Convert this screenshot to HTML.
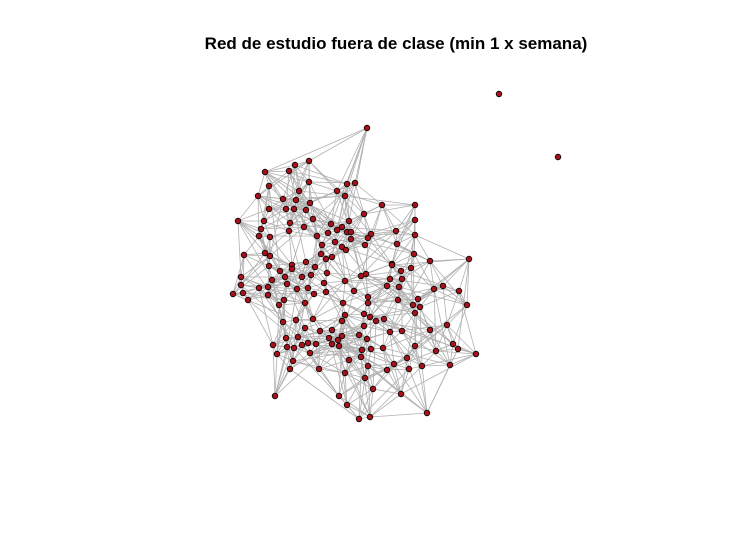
<!DOCTYPE html>
<html><head><meta charset="utf-8"><style>
html,body{margin:0;padding:0;background:#fff;}
svg{display:block;}
</style></head><body>
<svg id="chart" width="754" height="533" viewBox="0 0 754 533" xmlns="http://www.w3.org/2000/svg">
<rect width="754" height="533" fill="#fff"/>
<text x="396" y="49" text-anchor="middle" font-family="Liberation Sans, sans-serif" font-weight="bold" font-size="17">Red de estudio fuera de clase (min 1 x semana)</text>
<g id="edges"></g>
<g id="nodes"></g>
</svg>
<script>
const nodeX = [309,295,289,265,309,347,355,269,299,337,345,258,283,296,310,269,286,294,306,238,264,313,349,290,331,261,304,337,342,347,351,289,328,259,270,317,351,335,322,342,346,244,265,270,321,332,326,306,292,269,315,292,
367,382,415,364,415,396,415,371,368,365,397,414,430,469,392,411,
280,327,241,285,302,311,272,345,241,287,324,259,268,297,308,354,233,243,268,326,314,248,284,279,305,343,345,296,313,283,342,305,332,320,298,286,329,338,342,308,302,316,332,273,287,294,339,277,310,293,349,290,319,345,275,339,347,359,
361,366,392,401,390,402,387,399,434,443,459,398,418,368,368,413,420,467,415,364,370,376,384,447,364,430,390,402,359,367,415,453,458,383,362,371,436,476,407,361,394,422,409,450,368,387,365,373,401,427,370,
499,558];
const nodeY = [161,165,171,172,182,184,183,186,191,191,196,196,199,200,203,209,209,209,210,221,221,219,221,223,224,229,227,230,227,232,232,231,233,236,237,236,239,242,245,247,250,255,253,256,254,257,259,262,265,266,267,269,
128,205,205,214,220,231,235,234,238,245,244,254,261,259,264,268,
271,273,277,277,277,275,280,281,285,284,283,288,287,289,288,291,294,293,295,292,294,300,300,305,303,303,315,320,319,322,321,328,330,331,337,338,338,340,336,343,345,344,344,345,347,348,346,354,353,361,360,369,369,373,396,396,405,419,
276,274,265,271,279,279,286,287,289,286,291,300,299,297,303,305,307,305,313,314,317,321,319,325,326,330,332,331,335,339,346,344,349,348,350,349,351,354,358,357,364,366,369,365,366,370,378,389,394,413,417,
94,157];
const isolated = 2;

const eg = document.getElementById('edges');
const ng = document.getElementById('nodes');
const N = nodeX.length - isolated;
const seen = new Set();
function addEdge(a,b){
  if(a===b) return;
  const k = a<b ? a+'-'+b : b+'-'+a;
  if(seen.has(k)) return;
  seen.add(k);
  const l = document.createElementNS('http://www.w3.org/2000/svg','line');
  l.setAttribute('x1',nodeX[a]); l.setAttribute('y1',nodeY[a]);
  l.setAttribute('x2',nodeX[b]); l.setAttribute('y2',nodeY[b]);
  l.setAttribute('stroke','#b0b0b0'); l.setAttribute('stroke-width','0.8');
  
  
  eg.appendChild(l);
}
for(let i=0;i<N;i++){
  const d=[];
  for(let j=0;j<N;j++){ if(j!==i){ const dx=nodeX[i]-nodeX[j], dy=nodeY[i]-nodeY[j]; d.push([dx*dx+dy*dy,j]); } }
  d.sort((a,b)=>a[0]-b[0]);
  for(let k=0;k<5;k++) addEdge(i,d[k][1]);
  addEdge(i,d[6+(i%9)][1]);
  addEdge(i,d[12+(i*3%20)][1]);
  addEdge(i,d[15+(i*7%25)][1]);
}
for(let i=0;i<nodeX.length;i++){
  const c = document.createElementNS('http://www.w3.org/2000/svg','circle');
  c.setAttribute('cx',nodeX[i]); c.setAttribute('cy',nodeY[i]); c.setAttribute('r','2.8');
  c.setAttribute('fill','#a8101a'); c.setAttribute('stroke','#000'); c.setAttribute('stroke-width','0.8');
  
  
  ng.appendChild(c);
}
</script>
</body></html>
